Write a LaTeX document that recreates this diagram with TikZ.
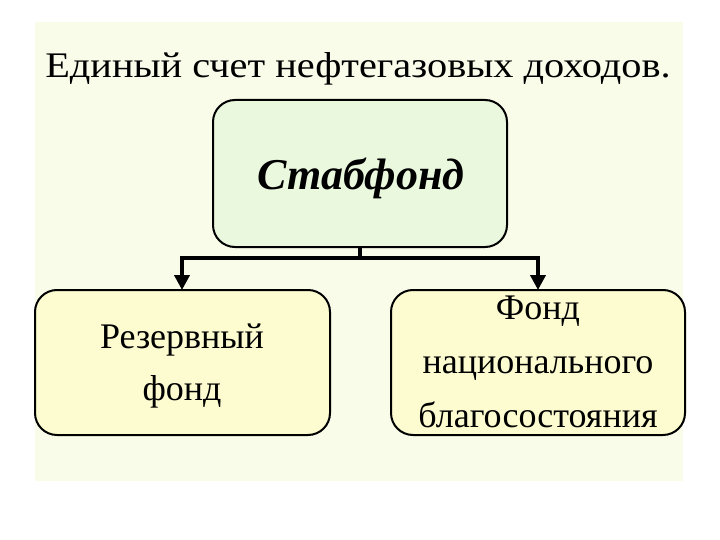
\documentclass[tikz,border=0pt]{standalone}
\usepackage{fontspec}
\setmainfont{Liberation Serif}
\usetikzlibrary{arrows.meta}
\definecolor{bgc}{RGB}{250,252,234}
\definecolor{topc}{RGB}{234,248,222}
\definecolor{boxc}{RGB}{252,252,208}
\tikzset{
  fundbox/.style={draw=black, line width=2pt, rounded corners=22pt, fill=boxc},
  conn/.style={line width=4pt, -{Triangle[length=15pt,width=15pt]}},
  boxtext/.style={align=center, inner sep=0pt, anchor=base, font=\fontsize{36}{52}\selectfont}
}
\begin{document}
\begin{tikzpicture}[x=1pt,y=-1pt]
\useasboundingbox (0,0) rectangle (720,540);
\fill[white] (0,0) rectangle (720,540);
\fill[bgc] (35,22) rectangle (683,481);
\node[anchor=base, inner sep=0pt, font=\fontsize{36}{40}\selectfont] (title) at (358,78)
  {\scalebox{1.12}[1]{Единый счет нефтегазовых доходов.}};
\draw[fundbox, fill=topc] (213,100) rectangle (507,247);
\node[inner sep=0pt, anchor=base, font=\fontsize{44}{50}\selectfont\bfseries\itshape] (stab) at (361,190)
  {Стабфонд};
\coordinate (top) at (360,247);
\draw[fundbox] (35,290) rectangle (330,435);
\draw[fundbox] (391,290) rectangle (685,435);
\node[boxtext] (rez) at (182,400) {Резервный\\фонд};
\node[boxtext, font=\fontsize{36}{54}\selectfont] (nat) at (538,427) {Фонд\\национального\\благосостояния};
\coordinate (l) at (182,290);
\coordinate (r) at (538,290);
\draw[line width=4pt] (top) -- (360,258);
\draw[conn] (360,258) -| (l);
\draw[conn] (360,258) -| (r);
\end{tikzpicture}
\end{document}
